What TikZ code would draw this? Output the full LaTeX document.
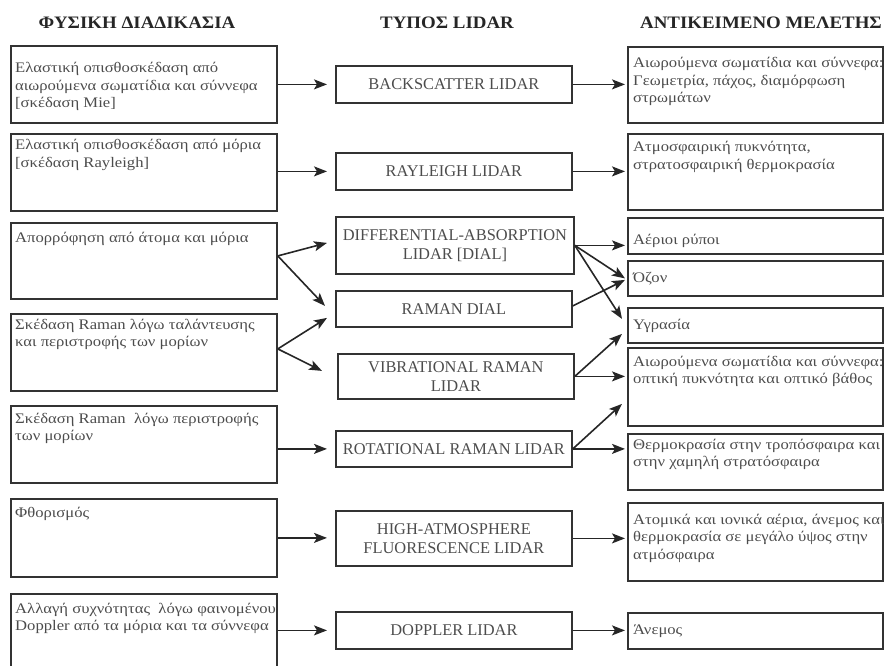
\documentclass[tikz,border=0pt]{standalone}
\usepackage{fontspec}
\setmainfont{Liberation Serif}
\newfontfamily\bodyf[FakeStretch=1.14]{Liberation Serif}
\newfontfamily\midf{Liberation Serif}
\newfontfamily\hdrf[FakeStretch=1.08]{Liberation Serif}
\usetikzlibrary{arrows.meta}
\newcommand\lbox[8]{%
  \node[box, minimum width=#4pt, minimum height=#5pt] (#1) at (#2,#3) {};
  \node[txt] (#1t) at ([xshift=#6pt,yshift=-#7pt]#1.north west) {\parbox[t]{330pt}{\raggedright #8}};}
\begin{document}
\begin{tikzpicture}[x=1pt,y=-1pt,
  box/.style={draw=black!80, line width=1.8pt, inner sep=0pt, anchor=north west},
  mbx/.style={draw=black!80, line width=1.8pt, inner sep=0pt, anchor=north west, align=center,
     font=\midf\fontsize{16.4}{19}\selectfont, text=black!70},
  txt/.style={anchor=base west, inner sep=0pt, font=\bodyf\fontsize{14.6}{17.5}\selectfont, text=black!70},
  hdr/.style={font=\hdrf\bfseries\fontsize{17.5}{20}\selectfont, text=black!85},
  arr/.style={draw=black!85, line width=1.6pt, -{Stealth[length=13pt,width=10pt,inset=3pt]}}]
\useasboundingbox (0,0) rectangle (884,666);
\clip (0,0) rectangle (884,666);

% headers
\node[hdr] (h1) at (137,23) {ΦΥΣΙΚΗ ΔΙΑΔΙΚΑΣΙΑ};
\node[hdr] (h2) at (447,23) {ΤΥΠΟΣ LIDAR};
\node[hdr] (h3) at (761,23) {ΑΝΤΙΚΕΙΜΕΝΟ ΜΕΛΕΤΗΣ};

% left column
\lbox{l1}{10}{45}{266}{77}{5}{28}{Ελαστική οπισθοσκέδαση από\\ αιωρούμενα σωματίδια και σύννεφα\\\relax [σκέδαση Mie]}
\lbox{l2}{10}{133}{266}{77}{5}{17}{Ελαστική οπισθοσκέδαση από μόρια\\\relax [σκέδαση Rayleigh]}
\lbox{l3}{10}{222}{266}{76}{5}{20}{Απορρόφηση από άτομα και μόρια}
\lbox{l4}{10}{313}{266}{77}{5}{16}{Σκέδαση Raman λόγω ταλάντευσης\\ και περιστροφής των μορίων}
\lbox{l5}{10}{405}{266}{77}{5}{18}{Σκέδαση Raman\ \ λόγω περιστροφής\\ των μορίων}
\lbox{l6}{10}{498}{266}{78}{5}{19}{Φθορισμός}
\lbox{l7}{10}{593}{266}{90}{5}{20}{Αλλαγή συχνότητας\ \ λόγω φαινομένου\\ Doppler από τα μόρια και τα σύννεφα}

% middle column
\node[mbx, minimum width=236pt, minimum height=37pt] (m1) at (335,65) {BACKSCATTER LIDAR};
\node[mbx, minimum width=236pt, minimum height=37pt] (m2) at (335,152) {RAYLEIGH LIDAR};
\node[mbx, minimum width=238pt, minimum height=57pt] (m3) at (335,216) {DIFFERENTIAL-ABSORPTION\\LIDAR [DIAL]};
\node[mbx, minimum width=236pt, minimum height=36pt] (m4) at (335,290) {RAMAN DIAL};
\node[mbx, minimum width=236pt, minimum height=45pt] (m5) at (337,353) {VIBRATIONAL RAMAN\\LIDAR};
\node[mbx, minimum width=236pt, minimum height=36pt] (m6) at (335,430) {ROTATIONAL RAMAN LIDAR};
\node[mbx, minimum width=236pt, minimum height=55pt] (m7) at (335,510) {HIGH-ATMOSPHERE\\FLUORESCENCE LIDAR};
\node[mbx, minimum width=236pt, minimum height=37pt] (m8) at (335,611) {DOPPLER LIDAR};

% right column
\lbox{r1}{627}{46}{255}{76}{6}{22}{Αιωρούμενα σωματίδια και σύννεφα:\\ Γεωμετρία, πάχος, διαμόρφωση\\ στρωμάτων}
\lbox{r2}{627}{133}{255}{76}{6}{19}{Ατμοσφαιρική πυκνότητα,\\ στρατοσφαιρική θερμοκρασία}
\lbox{r3}{627}{217}{255}{36}{6}{27}{Αέριοι ρύποι}
\lbox{r4}{627}{260}{255}{35}{6}{22}{Όζον}
\lbox{r5}{627}{307}{255}{35}{6}{22}{Υγρασία}
\lbox{r6}{627}{347}{255}{78}{6}{19}{Αιωρούμενα σωματίδια και σύννεφα:\\ οπτική πυκνότητα και οπτικό βάθος}
\lbox{r7}{627}{433}{255}{56}{6}{16}{Θερμοκρασία στην τροπόσφαιρα και\\ στην χαμηλή στρατόσφαιρα}
\lbox{r8}{627}{502}{255}{78}{6}{22}{Ατομικά και ιονικά αέρια, άνεμος και\\ θερμοκρασία σε μεγάλο ύψος στην\\ ατμόσφαιρα}
\lbox{r9}{627}{612}{255}{36}{6}{22}{Άνεμος}

% arrows left -> middle
\draw[arr] (l1.east) -- ([xshift=-8pt]l1.east -| m1.west);
\draw[arr] (m2.west -| l2.east) -- ([xshift=-8pt]m2.west);
\coordinate (f3) at ([yshift=5pt]l3.east);
\draw[arr] (f3) -- ([xshift=-8pt,yshift=2.5pt]m3.west);
\draw[arr] (f3) -- ([xshift=-10pt,yshift=3pt]m4.west);
\coordinate (f4) at ([yshift=3.5pt]l4.east);
\draw[arr] (f4) -- ([xshift=-8pt,yshift=-9pt]m4.west);
\draw[arr] (f4) -- ([xshift=-15pt,yshift=5.5pt]m5.west);
\draw[arr] (m6.west -| l5.east) -- ([xshift=-8pt]m6.west);
\draw[arr] (l6.east) -- ([xshift=-8pt]l6.east -| m7.west);
\draw[arr] (m8.west -| l7.east) -- ([xshift=-8pt]m8.west);

% arrows middle -> right
\draw[arr] (m1.east) -- ([xshift=-2pt]m1.east -| r1.west);
\draw[arr] (m2.east) -- ([xshift=-2pt]m2.east -| r2.west);
\draw[arr] (m3.east) -- ([xshift=-2pt]m3.east -| r3.west);
\draw[arr] (m3.east) -- ([xshift=-2pt]r4.west);
\draw[arr] (m3.east) -- ([xshift=-5pt,yshift=6.5pt]r5.west);
\draw[arr] ([yshift=3pt]m4.east) -- ([xshift=-2pt,yshift=-1.5pt]r4.west);
\draw[arr] (m5.east) -- ([xshift=-5pt,yshift=-8.5pt]r5.west);
\draw[arr] (m5.east) -- ([xshift=-2pt]m5.east -| r6.west);
\draw[arr] (m6.east) -- ([xshift=-5pt,yshift=-17pt]r6.west);
\draw[arr] (m6.east) -- ([xshift=-2pt]m6.east -| r7.west);
\draw[arr] (m7.east) -- ([xshift=-2pt]m7.east -| r8.west);
\draw[arr] (m8.east) -- ([xshift=-2pt]m8.east -| r9.west);
\end{tikzpicture}
\end{document}
